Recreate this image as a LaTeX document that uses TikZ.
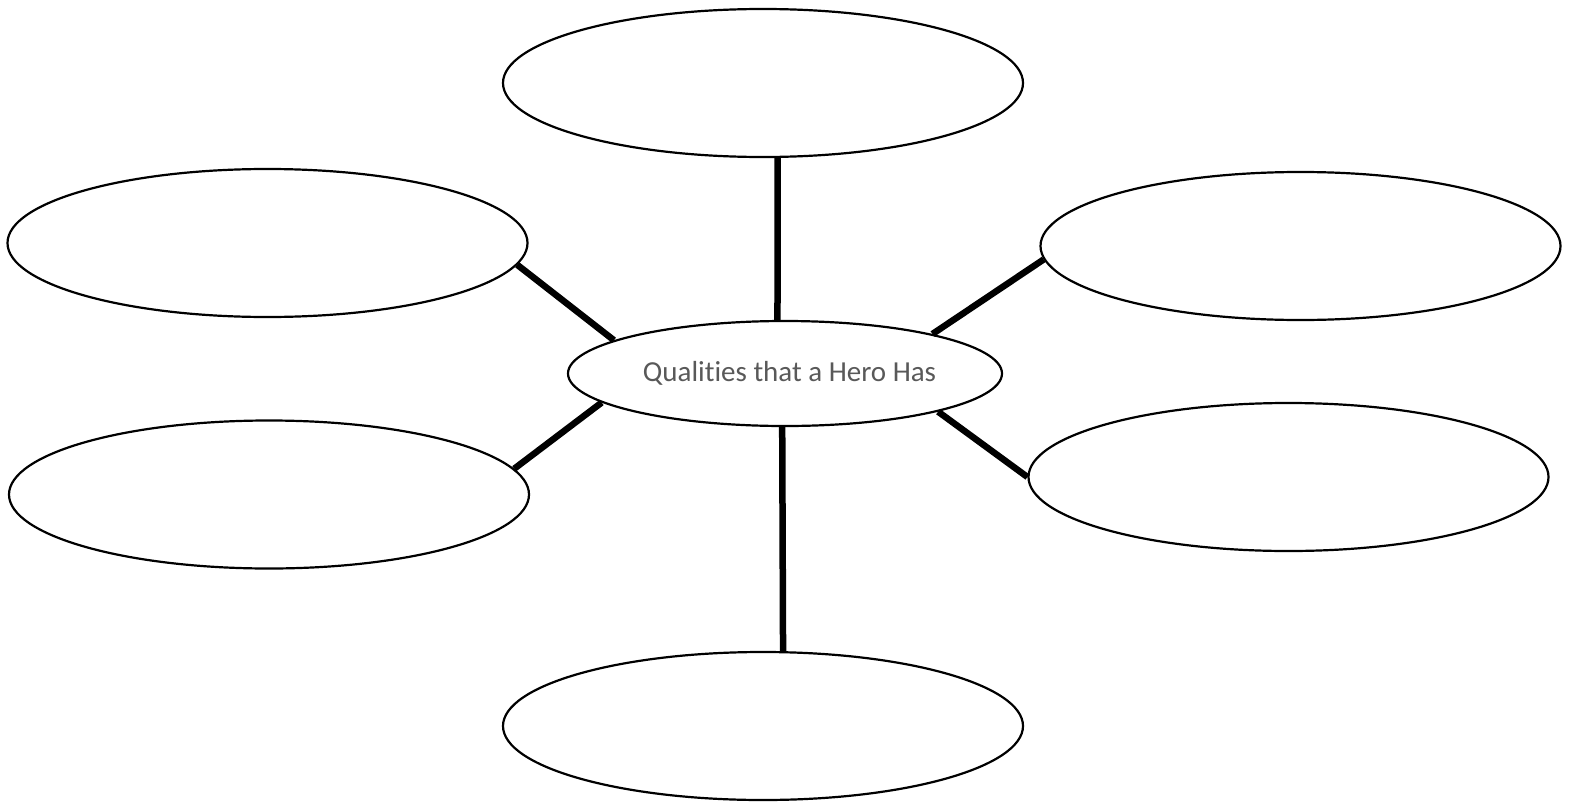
\documentclass[tikz,border=0pt]{standalone}
\usepackage{fontspec}
\setmainfont{Carlito}[Ligatures={NoCommon}]
\usetikzlibrary{shapes.geometric}
\definecolor{labelgray}{HTML}{595959}
\tikzset{
  bubble/.style={ellipse, draw=black, line width=2.2pt, fill=white,
    minimum width=520pt, minimum height=148pt, inner sep=0pt},
  hub/.style={ellipse, draw=black, line width=2.2pt, fill=white,
    minimum width=434pt, minimum height=105pt, inner sep=0pt,
    text=labelgray, font=\fontsize{29}{35}\selectfont},
  spoke/.style={line width=6.5pt, draw=black}
}
\begin{document}
\begin{tikzpicture}[x=1pt, y=-1pt]
  \useasboundingbox (0,0) rectangle (1573,808);
  % central topic
  \node[hub] (c) at (785,373.5) {\hspace*{9pt}Qualities that a Hero Has};
  % surrounding empty bubbles
  \node[bubble] (top) at (763,83) {};
  \node[bubble] (lt)  at (267.5,243) {};
  \node[bubble] (lb)  at (269,494.5) {};
  \node[bubble] (rt)  at (1300.5,246) {};
  \node[bubble] (rb)  at (1288.5,477) {};
  \node[bubble] (bot) at (763,726) {};
  % spokes
  \draw[spoke] (c.98.7)   -- (top.-79.3);
  \draw[spoke] (c.-93.3)  -- (bot.75.8);
  \draw[spoke] (c.169)    -- (lt.-5.1);
  \draw[spoke] (c.-171.1) -- (lb.6.3);
  \draw[spoke] (c.15.4)   -- (rt.-177.6);
  \draw[spoke] (c.-14.6)  -- (rb.180.2);
\end{tikzpicture}
\end{document}
